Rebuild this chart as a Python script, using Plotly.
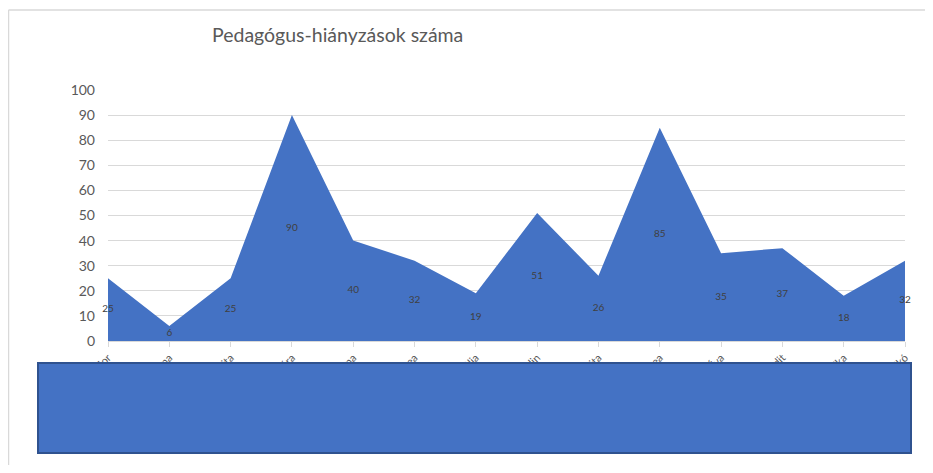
import plotly.graph_objects as go

categories = ["Tóth Nándor", "Kovács Anna", "Szabó Anita", "Horváth Sára", "Varga Ilona",
              "Kiss Andrea", "Molnár Júlia", "Németh Katalin", "Nagy Margita", "Balogh Andrea",
              "Papp Éva", "Takács Judit", "Juhász Erika", "Lakatos Ildikó"]
values = [25, 6, 25, 90, 40, 32, 19, 51, 26, 85, 35, 37, 18, 32]
y_ticks = [0, 10, 20, 30, 40, 50, 60, 70, 80, 90, 100]
title_text = "Pedagógus-hiányzások száma"

OFF = 8  # page body margin
W, H = 933 - 2 * OFF, 473 - 2 * OFF
L, T = 108 - OFF, 90 - OFF
pw, ph = 797, 251
R, B = W - L - pw, H - T - ph

def px(x):
    return (x - 108) / pw

def py(y):
    return (341 - y) / ph

FONT = "Lato"
fig = go.Figure()
fig.add_trace(go.Scatter(
    x=categories, y=values, mode="lines", fill="tozeroy",
    line=dict(color="#4472C4", width=0), fillcolor="#4472C4",
    hoverinfo="x+y", showlegend=False))
fig.add_trace(go.Scatter(
    x=categories, y=[v / 2 for v in values], mode="text",
    text=[str(v) for v in values], textposition="middle center",
    textfont=dict(family=FONT, size=10, color="#404040"), cliponaxis=False,
    hoverinfo="skip", showlegend=False))

fig.update_layout(
    width=W, height=H, margin=dict(l=L, r=R, t=T, b=B),
    paper_bgcolor="white", plot_bgcolor="white",
    font=dict(family=FONT, color="#595959"),
    xaxis=dict(showgrid=False, showline=True, linecolor="#d9d9d9", linewidth=1,
               ticks="outside", ticklen=5, tickcolor="#d9d9d9",
               tickangle=-45, tickfont=dict(size=11, color="#595959"),
               range=[0, len(categories) - 1], fixedrange=True),
    yaxis=dict(range=y_ticks[0:1] + y_ticks[-1:], tickvals=y_ticks, showgrid=True,
               gridcolor="#d9d9d9", gridwidth=1, zeroline=False, showline=False,
               tickfont=dict(size=14, color="#595959"), ticklabelstandoff=12),
    annotations=[dict(text=title_text, xref="paper", yref="paper",
                      x=px(337), y=py(35), showarrow=False,
                      font=dict(family=FONT, size=19.5, color="#595959"),
                      xanchor="center", yanchor="middle")],
    shapes=[
        dict(type="line", xref="paper", yref="paper",
             x0=px(8.5), x1=px(8.5), y0=py(480), y1=py(10),
             line=dict(color="#d9d9d9", width=1.5), layer="below"),
        dict(type="line", xref="paper", yref="paper",
             x0=px(8.5), x1=px(940), y0=py(10), y1=py(10),
             line=dict(color="#d9d9d9", width=1.5), layer="below"),
        dict(type="rect", xref="paper", yref="paper",
             x0=px(38), x1=px(911), y0=py(453), y1=py(363),
             line=dict(color="#2F528F", width=2), fillcolor="#4472C4", layer="above"),
    ],
)
fig.write_html("out.html")
